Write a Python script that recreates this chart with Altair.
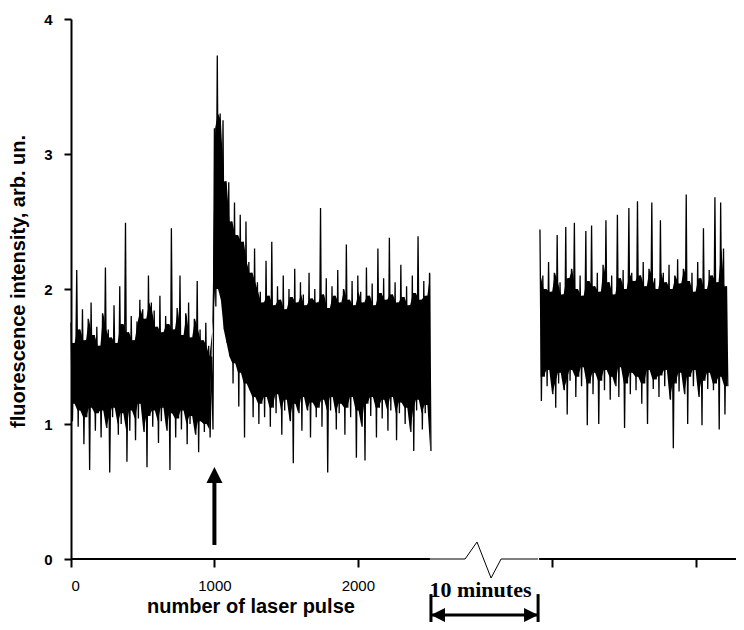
import altair as alt
import pandas as pd

# ---- data (hi/lo extremes per 20-pulse column) ----
seg1_start = 0
seg2_start = 3270
step = 20

seg1_hi = [
    1.75, 1.60, 2.14, 1.70, 1.85, 1.62, 1.78, 1.90, 1.66, 1.72,
    1.58, 1.82, 2.16, 1.70, 1.64, 1.88, 1.60, 2.02, 1.74, 2.49,
    1.68, 1.80, 1.62, 1.76, 1.92, 1.85, 1.78, 2.10, 1.90, 1.84,
    1.72, 1.95, 1.68, 1.80, 1.74, 2.45, 1.70, 1.86, 2.10, 1.66,
    1.82, 1.90, 1.64, 1.78, 2.06, 1.70, 1.62, 1.75, 1.58, 1.50,
    3.19, 3.73, 3.30, 3.25, 2.80, 2.79, 2.50, 2.64, 2.40, 2.55,
    2.35, 2.50, 2.20, 2.12, 2.30, 2.05,
    1.98, 1.90, 2.21, 1.95, 2.35, 1.88, 2.02, 1.92, 2.10, 1.85,
    2.00, 1.94, 2.15, 1.90, 2.05, 1.96, 1.88, 2.12, 1.93, 2.00,
    1.90, 2.60, 1.96, 2.08, 1.86, 2.02, 1.95, 2.14, 1.90, 2.00,
    2.33, 1.92, 2.06, 1.88, 2.10, 1.98, 1.90, 2.16, 1.95, 2.04,
    1.88, 2.30, 1.97, 2.08, 1.92, 2.38, 1.96, 2.05, 1.90, 2.18,
    1.94, 2.02, 1.88, 2.10, 1.97, 2.39, 1.92, 2.06, 1.95, 2.12,
]
seg1_lo = [
    1.02, 1.15, 0.98, 1.10, 0.85, 1.05, 0.66, 1.12, 0.95, 1.08,
    0.90, 1.10, 0.97, 0.64, 1.05, 1.12, 0.92, 1.00, 1.08, 0.72,
    0.95, 1.10, 0.88, 1.04, 1.15, 0.94, 0.68, 1.06, 0.98, 1.10,
    0.86, 1.02, 1.12, 0.95, 0.66, 1.08, 0.90, 1.04, 0.96, 1.10,
    0.85, 1.00, 1.06, 0.92, 0.79, 1.02, 0.94, 1.00, 0.90, 0.96,
    1.87, 2.00, 1.92, 1.70, 1.60, 1.50, 1.30, 1.45, 1.13, 1.38,
    0.90, 1.30, 1.25, 1.05, 1.20, 1.00,
    1.15, 1.05, 1.20, 0.98, 1.12, 1.08, 1.22, 0.92, 1.10, 1.18,
    1.02, 0.71, 1.15, 1.08, 0.95, 1.20, 1.10, 0.90, 1.16, 1.05,
    1.12, 0.98, 1.18, 0.64, 1.10, 1.20, 0.96, 1.08, 1.15, 0.92,
    1.12, 1.05, 1.20, 0.75, 1.10, 0.98, 0.73, 1.15, 1.06, 1.20,
    0.90, 1.12, 1.04, 1.18, 0.95, 1.10, 1.20, 0.88, 1.08, 1.16,
    1.00, 1.12, 0.94, 0.80, 1.10, 1.18, 0.96, 1.08, 1.14, 0.80,
]
seg2_hi = [
    2.44, 2.10, 2.00, 2.20, 1.98, 2.12, 2.40, 2.05, 1.96, 2.46,
    2.08, 2.15, 2.49, 2.00, 2.10, 1.95, 2.43, 2.06, 2.47, 2.02,
    2.12, 1.98, 2.18, 2.51, 2.05, 2.10, 1.96, 2.55, 2.08, 2.14,
    2.00, 2.60, 2.12, 2.06, 2.65, 2.10, 2.20, 2.02, 2.15, 2.64,
    2.08, 2.00, 2.51, 2.12, 2.05, 2.18, 2.00, 2.10, 2.22, 2.04,
    2.15, 2.70, 2.06, 2.12, 1.98, 2.20, 2.08, 2.45, 2.00, 2.14,
    2.10, 2.68, 2.05, 2.64, 2.30, 2.02,
]
seg2_lo = [
    1.17, 1.35, 1.28, 1.40, 1.22, 1.12, 1.30, 1.38, 1.25, 1.07,
    1.32, 1.40, 1.20, 1.35, 1.28, 1.42, 0.99, 1.30, 1.22, 1.38,
    1.00, 1.32, 1.25, 1.40, 1.18, 1.35, 1.28, 1.20, 1.42, 0.97,
    1.30, 1.22, 1.38, 1.25, 1.35, 1.15, 1.30, 1.00, 1.40, 1.26,
    1.33, 1.20, 1.36, 1.28, 1.40, 1.18, 0.82, 1.30, 1.24, 1.38,
    1.22, 1.00, 1.35, 1.28, 1.40, 1.20, 0.99, 1.32, 1.26, 1.38,
    1.25, 1.30, 0.96, 1.35, 1.07, 1.28,
]

x_ticks = [0, 1000, 2000, 3356, 4358]
y_ticks = [0, 1, 2, 3, 4]
x_max = 4637

# axis break geometry (data units)
axis_left = [0, 2503]
axis_right = [3264, x_max]
zig_x = [2503, 2748, 2831, 2929, 2999, 3257]
zig_y = [0, 0, 0.126, -0.141, 0, 0]

rows = []
core_rows = []
order = 0
for seg, start, his, los in [(1, seg1_start, seg1_hi, seg1_lo),
                              (2, seg2_start, seg2_hi, seg2_lo)]:
    n = len(his)
    for k, (h, l) in enumerate(zip(his, los)):
        rows.append({"x": start + step * k, "y": h, "seg": seg, "o": order}); order += 1
        rows.append({"x": start + step * k + 10, "y": l, "seg": seg, "o": order}); order += 1
        # dense core: overlap of this column with the next one
        b = min(n, k + 2)
        top = min(his[k:b])
        bot = max(los[k:b])
        if top < bot:
            top = bot = (top + bot) / 2
        core_rows.append({"x": start + step * k + 5, "top": top, "bot": bot, "seg": seg})
df = pd.DataFrame(rows)
core_df = pd.DataFrame(core_rows)

xs = alt.Scale(domain=[0, x_max], nice=False, zero=False)
ys = alt.Scale(domain=[0, 4], nice=False)

core = alt.Chart(core_df).mark_area(color="black", opacity=1, interpolate="linear").encode(
    x=alt.X("x:Q", scale=xs, axis=alt.Axis(
        values=x_ticks, domain=False, grid=False, title=None, format="d",
        labelExpr="datum.value <= 2000 ? datum.label : ''",
        tickSize=8, tickWidth=2, tickColor="black",
        labelFont="Liberation Sans", labelFontSize=15, labelColor="black",
        labelPadding=11)),
    y=alt.Y("top:Q", scale=ys, axis=alt.Axis(
        values=y_ticks, grid=False, domainColor="black", domainWidth=2, format="d",
        tickSize=7, tickWidth=2, tickColor="black",
        labelFont="Liberation Sans", labelFontSize=15, labelFontWeight="bold",
        labelColor="black", labelPadding=12,
        title="fluorescence intensity, arb. un.", titleFont="Liberation Sans",
        titleFontSize=20, titleFontWeight="bold", titleColor="black",
        titleX=-47, titleY=262, titleBaseline="alphabetic", titleAngle=-90)),
    y2="bot:Q",
    detail="seg:N",
)

signal = alt.Chart(df).mark_line(color="black", strokeWidth=1.3).encode(
    x=alt.X("x:Q", scale=xs),
    y=alt.Y("y:Q", scale=ys),
    detail="seg:N",
    order="o:Q",
)

axis_df = pd.DataFrame({"x": [axis_left[0], axis_right[0]], "x2": [axis_left[1], axis_right[1]], "y": [0, 0]})
axis_lines = alt.Chart(axis_df).mark_rule(color="black", strokeWidth=2).encode(
    x=alt.X("x:Q", scale=xs), x2="x2:Q", y=alt.Y("y:Q", scale=ys))

zig = alt.Chart(pd.DataFrame({"x": zig_x, "y": zig_y, "o": list(range(len(zig_x)))})).mark_line(
    color="black", strokeWidth=1).encode(
    x=alt.X("x:Q", scale=xs), y=alt.Y("y:Q", scale=ys), order="o:Q")

# up arrow at pulse 1000
arrow_x = 1000
shaft = alt.Chart(pd.DataFrame({"x": [arrow_x], "y": [0.104], "y2": [0.6]})).mark_rule(
    color="black", strokeWidth=4).encode(x=alt.X("x:Q", scale=xs), y=alt.Y("y:Q", scale=ys), y2="y2:Q")
head = alt.Chart(pd.DataFrame({"x": [arrow_x], "y": [0.622]})).mark_point(
    shape="M 0 -1 L 1 1 L -1 1 Z", size=256, filled=True, color="black", opacity=1).encode(
    x=alt.X("x:Q", scale=xs), y=alt.Y("y:Q", scale=ys))

# 10 minutes double arrow
dbl_left, dbl_right = 2510, 3257
bars = alt.Chart(pd.DataFrame({"x": [dbl_left, dbl_right], "y": [-0.26, -0.26], "y2": [-0.55, -0.55]})).mark_rule(
    color="black", strokeWidth=3).encode(x=alt.X("x:Q", scale=xs), y=alt.Y("y:Q", scale=ys), y2="y2:Q")
hline = alt.Chart(pd.DataFrame({"x": [dbl_left], "x2": [dbl_right], "y": [-0.415]})).mark_rule(
    color="black", strokeWidth=3).encode(x=alt.X("x:Q", scale=xs), x2="x2:Q", y=alt.Y("y:Q", scale=ys))
lhead = alt.Chart(pd.DataFrame({"x": [2559], "y": [-0.415]})).mark_point(
    shape="M -1 0 L 1 -1 L 1 1 Z", size=196, filled=True, color="black", opacity=1).encode(
    x=alt.X("x:Q", scale=xs), y=alt.Y("y:Q", scale=ys))
rhead = alt.Chart(pd.DataFrame({"x": [3208], "y": [-0.415]})).mark_point(
    shape="M 1 0 L -1 -1 L -1 1 Z", size=196, filled=True, color="black", opacity=1).encode(
    x=alt.X("x:Q", scale=xs), y=alt.Y("y:Q", scale=ys))
minutes = alt.Chart(pd.DataFrame({"x": [2855], "y": [-0.281], "t": ["10 minutes"]})).mark_text(
    font="Liberation Serif", fontSize=22, fontWeight="bold", color="black",
    align="center", baseline="alphabetic").encode(
    x=alt.X("x:Q", scale=xs), y=alt.Y("y:Q", scale=ys), text="t:N")

xtitle = alt.Chart(pd.DataFrame({"x": [1255], "y": [-0.40], "t": ["number of laser pulse"]})).mark_text(
    font="Liberation Sans", fontSize=20, fontWeight="bold", color="black",
    align="center", baseline="alphabetic").encode(
    x=alt.X("x:Q", scale=xs), y=alt.Y("y:Q", scale=ys), text="t:N")

chart = alt.layer(core, signal, axis_lines, zig, shaft, head, bars, hline, lhead, rhead, minutes, xtitle).properties(
    width=665, height=540,
    autosize=alt.AutoSizeParams(type="none"),
    padding={"left": 63, "top": 11, "right": 0, "bottom": 63},
).configure_view(stroke=None)

chart.save("out.html", embed_options={"renderer": "svg", "actions": False})
